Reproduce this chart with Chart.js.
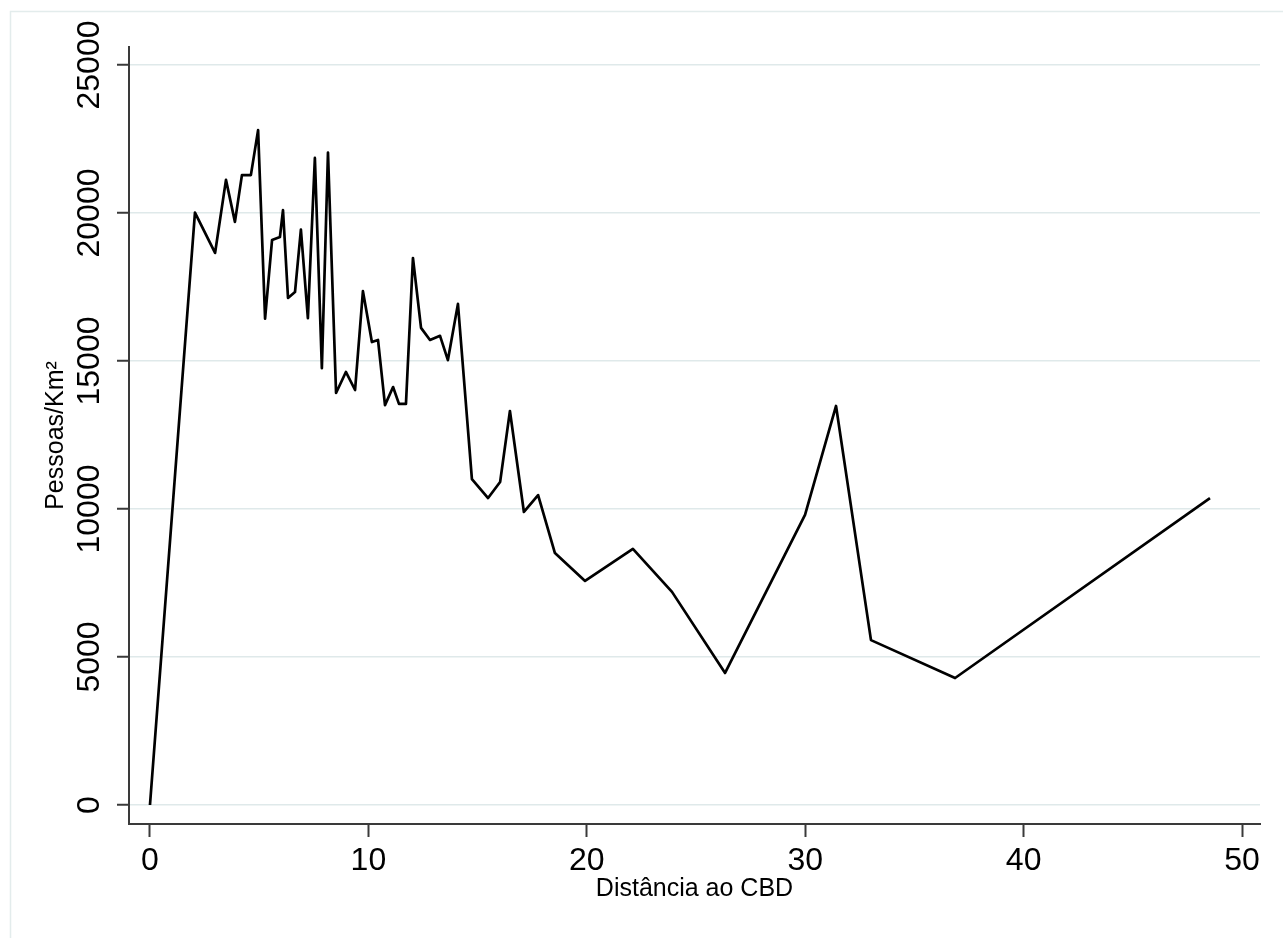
<!DOCTYPE html>
<html>
<head>
<meta charset="utf-8">
<script src="https://cdn.jsdelivr.net/npm/chart.js@4.4.1/dist/chart.umd.min.js"></script>
<style>
  html, body { margin: 0; padding: 0; background: #ffffff; }
  #wrap { position: relative; width: 1283px; height: 938px; }
</style>
</head>
<body>
<div id="wrap"><canvas id="grafico" width="1283" height="938"></canvas></div>
<script>
// Distância ao CBD (km) e densidade populacional (pessoas/km²)
const distancia = [
  0, 2.06, 2.98, 3.48, 3.89, 4.21, 4.62, 4.95, 5.27, 5.59,
  5.95, 6.09, 6.32, 6.64, 6.91, 7.23, 7.55, 7.87, 8.15, 8.52,
  8.97, 9.39, 9.75, 10.16, 10.44, 10.76, 11.13, 11.40, 11.72, 12.04,
  12.41, 12.82, 13.28, 13.64, 14.10, 14.74, 15.48, 16.03, 16.48, 17.12,
  17.77, 18.54, 19.92, 22.11, 23.90, 26.33, 29.99, 31.41, 33.01, 36.86,
  48.53
];
const densidade = [
  0, 20010, 18650, 21120, 19700, 21280, 21280, 22800, 16430, 19090,
  19190, 20100, 17130, 17330, 19440, 16450, 21860, 14760, 22040, 13920,
  14630, 14020, 17360, 15640, 15710, 13510, 14120, 13550, 13550, 18480,
  16120, 15710, 15850, 15030, 16930, 11010, 10370, 10910, 13310, 9900,
  10470, 8510, 7570, 8650, 7200, 4460, 9800, 13480, 5570, 4290,
  10370
];
const xTicks = [0, 10, 20, 30, 40, 50];
const yTicks = [0, 5000, 10000, 15000, 20000, 25000];

const fonte = "'Liberation Sans', Arial, sans-serif";
const corEixo = '#3a3a3a';

// Moldura clara em volta da área do gráfico
const moldura = {
  id: 'moldura',
  beforeDraw(chart) {
    const ctx = chart.ctx;
    ctx.save();
    ctx.strokeStyle = '#e3ecec';
    ctx.lineWidth = 1.5;
    ctx.strokeRect(10.5, 11.5, 2000, 2000);
    ctx.restore();
  }
};

new Chart(document.getElementById('grafico').getContext('2d'), {
  type: 'scatter',
  data: {
    datasets: [{
      data: distancia.map((x, i) => ({ x: x, y: densidade[i] })),
      showLine: true,
      borderColor: '#000000',
      borderWidth: 2.7,
      borderJoinStyle: 'round',
      pointRadius: 0,
      pointHoverRadius: 0,
      tension: 0,
      fill: false
    }]
  },
  options: {
    responsive: false,
    animation: false,
    events: [],
    layout: { padding: { left: 0, right: 23, top: 47, bottom: 0 } },
    plugins: {
      legend: { display: false },
      tooltip: { enabled: false }
    },
    scales: {
      x: {
        type: 'linear',
        min: -0.96,
        max: 50.82,
        afterBuildTicks: s => { s.ticks = xTicks.map(v => ({ value: v })); },
        afterFit: s => { s.height = 114; },
        grid: {
          drawOnChartArea: false,
          drawTicks: true,
          tickLength: 13,
          tickColor: corEixo,
          tickWidth: 2
        },
        border: { color: corEixo, width: 2 },
        ticks: {
          color: '#000000',
          font: { family: fonte, size: 32 },
          padding: 5,
          maxRotation: 0,
          minRotation: 0,
          autoSkip: false,
          callback: v => String(v)
        },
        title: {
          display: true,
          text: 'Distância ao CBD',
          color: '#000000',
          font: { family: fonte, size: 25 },
          padding: { top: 0, bottom: 34 }
        }
      },
      y: {
        type: 'linear',
        min: -642,
        max: 25608,
        afterBuildTicks: s => { s.ticks = yTicks.map(v => ({ value: v })); },
        afterFit: s => { s.width = 129; },
        grid: {
          color: '#dfe9ea',
          lineWidth: 1.5,
          drawTicks: true,
          tickLength: 12,
          tickColor: corEixo,
          tickWidth: 2
        },
        border: { color: corEixo, width: 2 },
        ticks: {
          color: '#000000',
          font: { family: fonte, size: 32 },
          minRotation: 90,
          maxRotation: 90,
          crossAlign: 'center',
          padding: -18,
          autoSkip: false,
          callback: v => String(v)
        },
        title: {
          display: true,
          text: 'Pessoas/Km²',
          color: '#000000',
          font: { family: fonte, size: 25 },
          padding: { top: 41, bottom: 0 }
        }
      }
    }
  },
  plugins: [moldura]
});
</script>
</body>
</html>
